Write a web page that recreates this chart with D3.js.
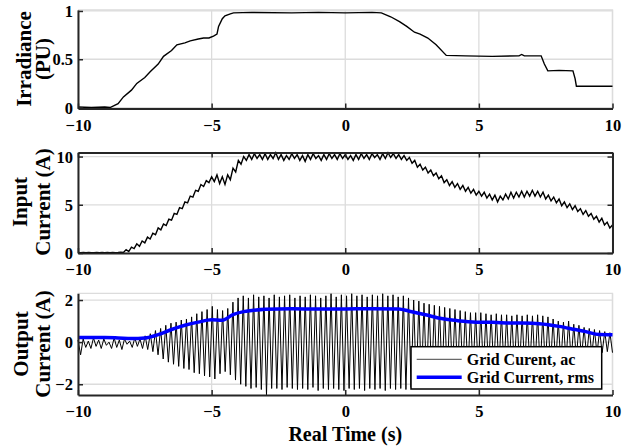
<!DOCTYPE html>
<html>
<head>
<meta charset="utf-8">
<script src="https://cdn.jsdelivr.net/npm/d3@7"></script>
<style>
  body { margin: 0; background: #fff; }
  svg { display: block; }
  text { font-family: 'Liberation Serif', 'Times New Roman', serif; font-weight: bold; fill: #000; }
</style>
</head>
<body>
<div id="chart"></div>
<script>
// time axis shared by all three panels
const timeTicks = [-10, -5, 0, 5, 10];

// irradiance (PU), read at breakpoints
const irrTime = [-10, -9.5, -9, -8.8, -8.5, -8.3, -8, -7.8, -7.5, -7.3,
  -7, -6.8, -6.5, -6.3, -6, -5.8, -5.5, -5.3, -5.1, -4.93,
  -4.8, -4.74, -4.6, -4.5, -4.3, -4.18, -3.5, -2, -1, 0,
  1, 1.35, 1.7, 2.03, 2.3, 2.59, 2.8, 3.09, 3.4, 3.78,
  4.5, 5.5, 6.5, 6.6, 6.7, 7.33, 7.45, 7.58, 8, 8.52,
  8.6, 8.65, 9, 10];
const irrValue = [0.005, 0.0, 0.005, 0.0, 0.04, 0.11, 0.18, 0.25, 0.31, 0.37,
  0.45, 0.53, 0.59, 0.65, 0.67, 0.69, 0.71, 0.72, 0.72, 0.74,
  0.76, 0.84, 0.92, 0.95, 0.97, 0.98, 0.985, 0.98, 0.985, 0.98,
  0.985, 0.98, 0.94, 0.89, 0.84, 0.78, 0.76, 0.72, 0.65, 0.54,
  0.535, 0.53, 0.535, 0.55, 0.535, 0.535, 0.45, 0.38, 0.385, 0.38,
  0.3, 0.22, 0.22, 0.22];
const irrTicks = [0, 0.5, 1];

// input current (A), one sample every 0.1 s from -10 s
const inputStep = 0.1;
const inputCurrent = [
  0.05, 0.02, 0.06, 0.03, 0.05, 0.02, 0.04, 0.06, 0.03, 0.05,
  0.02, 0.05, 0.03, 0.06, 0.04, 0.05, 0.08, 0.05, 0.35, 0.15,
  0.6, 0.45, 0.95, 0.7, 1.25, 1.05, 1.65, 1.45, 2.05, 1.9,
  2.6, 2.4, 3.0, 2.85, 3.5, 3.4, 4.1, 4.0, 4.7, 4.6,
  5.3, 5.2, 5.9, 5.8, 6.5, 6.4, 7.1, 6.9, 7.5, 7.3,
  7.9, 7.4, 8.1, 7.2, 7.9, 7.1, 8.1, 7.6, 8.8, 8.4,
  9.6, 9.2, 10.0, 9.6, 10.2, 9.7, 10.3, 9.8, 10.2, 9.7,
  10.3, 9.7, 10.2, 9.8, 10.4, 9.7, 10.2, 9.6, 10.1, 9.7,
  10.3, 9.8, 10.2, 9.6, 10.1, 9.5, 10.2, 9.7, 10.3, 9.8,
  10.1, 9.6, 10.2, 9.7, 10.3, 9.8, 10.2, 9.7, 10.3, 9.8,
  10.2, 9.7, 10.1, 9.6, 10.2, 9.7, 10.3, 9.8, 10.2, 9.7,
  10.3, 9.9, 10.2, 9.7, 10.3, 9.8, 10.4, 9.9, 10.3, 9.8,
  10.2, 9.7, 10.1, 9.6, 9.9, 9.3, 9.6, 8.9, 9.2, 8.6,
  8.9, 8.3, 8.6, 8.0, 8.3, 7.7, 8.0, 7.3, 7.6, 7.0,
  7.4, 6.8, 7.2, 6.6, 7.0, 6.4, 6.8, 6.2, 6.6, 6.0,
  6.4, 5.9, 6.3, 5.7, 6.1, 5.5, 6.0, 5.3, 5.9, 5.5,
  6.1, 5.6, 6.3, 5.7, 6.3, 5.8, 6.4, 5.8, 6.4, 5.9,
  6.5, 5.9, 6.4, 5.8, 6.3, 5.6, 6.0, 5.4, 5.8, 5.2,
  5.6, 4.9, 5.3, 4.7, 5.1, 4.5, 4.9, 4.3, 4.6, 4.0,
  4.4, 3.8, 4.1, 3.5, 3.8, 3.2, 3.6, 2.9, 3.2, 2.6,
  2.9];
const inputTicks = [0, 5, 10];

// grid current ac (A): peak / trough per cycle, evenly spaced over -10..10 s
const gridAc = [
  0.1, -0.6, 0.15, -0.25, 0.05, -0.3, 0.2, -0.2, 0.1, -0.3, 0.15, -0.15, 0.0, -0.3, 0.2, -0.25, 0.1, -0.35, 0.15, -0.1,
  0.05, -0.25, 0.2, -0.2, 0.15, -0.3, 0.3, -0.35, 0.4, -0.45, 0.55, -0.6, 0.65, -0.8, 0.8, -0.95, 0.9, -1.05, 0.95, -1.15,
  1.05, -1.25, 1.1, -1.3, 1.2, -1.45, 1.35, -1.5, 1.45, -1.6, 1.55, -1.65, 1.7, -1.75, 1.55, -1.5, 1.5, -1.4, 1.6, -1.55,
  1.9, -1.8, 2.1, -2.0, 2.2, -2.1, 2.1, -2.2, 2.25, -2.15, 2.15, -2.25, 2.2, -2.5, 2.1, -2.2, 2.25, -2.2, 2.15, -2.25,
  2.2, -2.15, 2.25, -2.2, 2.1, -2.25, 2.2, -2.2, 2.15, -2.25, 2.25, -2.15, 2.2, -2.3, 2.1, -2.2, 2.2, -2.25, 2.3, -2.2,
  2.15, -2.25, 2.25, -2.3, 2.2, -2.2, 2.3, -2.25, 2.2, -2.2, 2.25, -2.3, 2.15, -2.2, 2.25, -2.25, 2.2, -2.2, 2.3, -2.3,
  2.2, -2.2, 2.25, -2.25, 2.15, -2.2, 2.2, -2.25, 2.1, -2.15, 2.0, -2.1, 1.95, -2.0, 1.85, -1.95, 1.8, -1.85, 1.75, -1.8,
  1.7, -1.75, 1.65, -1.7, 1.6, -1.6, 1.55, -1.55, 1.5, -1.5, 1.45, -1.45, 1.4, -1.4, 1.4, -1.4, 1.4, -1.35, 1.35, -1.3,
  1.3, -1.3, 1.35, -1.25, 1.3, -1.3, 1.3, -1.25, 1.25, -1.25, 1.3, -1.2, 1.25, -1.25, 1.3, -1.2, 1.25, -1.2, 1.3, -1.25,
  1.25, -1.2, 1.2, -1.15, 1.1, -1.05, 1.0, -1.0, 0.95, -0.9, 1.0, -0.9, 0.85, -0.8, 0.8, -0.75, 0.7, -0.7, 0.65, -0.6,
  0.6, -0.55, 0.55, -0.5, 0.5, -0.45, 0.45, -0.5];

// grid current rms (A)
const rmsTime = [-10, -9, -8.5, -8, -7.5, -7, -6.5, -6, -5.5, -5,
  -4.6, -4.2, -3.8, -3.5, -3, -2, -1, 0, 1, 2,
  2.4, 3, 3.6, 4.2, 4.9, 5.5, 6.2, 7, 7.6, 8,
  8.6, 9, 9.5, 10];
const rmsValue = [0.22, 0.22, 0.2, 0.17, 0.2, 0.36, 0.6, 0.8, 0.95, 1.06,
  1.04, 1.31, 1.45, 1.5, 1.56, 1.59, 1.57, 1.58, 1.59, 1.58,
  1.47, 1.3, 1.12, 1.02, 0.95, 0.94, 0.91, 0.9, 0.83, 0.75,
  0.6, 0.5, 0.36, 0.35];
const outputTicks = [-2, 0, 2];

const legendLabels = ['Grid Curent, ac', 'Grid Current, rms'];

const width = 623;
const height = 447;
const gridColor = '#dcdcdc';
const axisColor = '#262626';

const svg = d3.select('#chart')
  .append('svg')
  .attr('width', width)
  .attr('height', height);

const x = d3.scaleLinear()
  .domain([-10, 10])
  .range([78, 612.5]);

function drawPanel({ top, bottom, domain, ticks, format, box, labels, labelX, labelY }) {
  const y = d3.scaleLinear()
    .domain(domain)
    .range([bottom, top]);

  const g = svg.append('g');

  // grid
  g.append('g')
    .selectAll('line')
    .data(timeTicks)
    .join('line')
    .attr('x1', d => x(d))
    .attr('x2', d => x(d))
    .attr('y1', top)
    .attr('y2', bottom)
    .attr('stroke', gridColor)
    .attr('stroke-width', 1.3);

  g.append('g')
    .selectAll('line')
    .data(ticks)
    .join('line')
    .attr('x1', x.range()[0])
    .attr('x2', x.range()[1])
    .attr('y1', d => y(d))
    .attr('y2', d => y(d))
    .attr('stroke', gridColor)
    .attr('stroke-width', 1.3);

  // light box edges for panels drawn with box off
  if (!box) {
    g.append('path')
      .attr('d', `M${x.range()[0]},${top}H${x.range()[1]}V${bottom}`)
      .attr('fill', 'none')
      .attr('stroke', gridColor)
      .attr('stroke-width', 1.3);
  }

  const finish = () => {
    const axisG = svg.append('g');

    const bottomAxis = axisG.append('g')
      .attr('transform', `translate(0, ${bottom})`)
      .call(d3.axisBottom(x).tickValues(timeTicks).tickSizeInner(-5).tickSizeOuter(0));
    bottomAxis.selectAll('text')
      .attr('y', 22)
      .attr('dy', 0)
      .style('font-size', '16.5px');

    const leftAxis = axisG.append('g')
      .attr('transform', `translate(${x.range()[0]}, 0)`)
      .call(d3.axisLeft(y).tickValues(ticks).tickFormat(format).tickSizeInner(-5).tickSizeOuter(0).tickPadding(5));
    leftAxis.selectAll('text')
      .attr('dy', '0.34em')
      .style('font-size', '16.5px');

    if (box) {
      axisG.append('g')
        .attr('transform', `translate(0, ${top})`)
        .call(d3.axisTop(x).tickValues(timeTicks).tickSizeInner(-5).tickSizeOuter(0).tickFormat(''));
      axisG.append('g')
        .attr('transform', `translate(${x.range()[1]}, 0)`)
        .call(d3.axisRight(y).tickValues(ticks).tickSizeInner(-5).tickSizeOuter(0).tickFormat(''));
    }

    axisG.selectAll('.domain')
      .attr('stroke', axisColor)
      .attr('stroke-width', 2);
    axisG.selectAll('.tick line')
      .attr('stroke', axisColor)
      .attr('stroke-width', 1.5);

    labels.forEach((t, i) => {
      svg.append('text')
        .attr('transform', `translate(${labelX[i]}, ${labelY}) rotate(-90)`)
        .attr('text-anchor', 'middle')
        .style('font-size', '21px')
        .text(t);
    });
  };

  return { y, g, finish };
}

// panel 1: irradiance
const p1 = drawPanel({
  top: 10, bottom: 108.5, domain: [-0.01, 1.01], ticks: irrTicks,
  format: d3.format('~g'), box: false,
  labels: ['Irradiance', '(PU)'], labelX: [31, 50], labelY: 59,
});
p1.g.append('path')
  .datum(d3.zip(irrTime, irrValue))
  .attr('fill', 'none')
  .attr('stroke', '#000')
  .attr('stroke-width', 1.4)
  .attr('d', d3.line().x(d => x(d[0])).y(d => p1.y(d[1])));
p1.finish();

// panel 2: input current
const p2 = drawPanel({
  top: 152.5, bottom: 253, domain: [0, 10.42], ticks: inputTicks,
  format: d3.format('d'), box: true,
  labels: ['Input', 'Current (A)'], labelX: [27, 50], labelY: 202,
});
p2.g.append('path')
  .datum(inputCurrent)
  .attr('fill', 'none')
  .attr('stroke', '#000')
  .attr('stroke-width', 1.4)
  .attr('d', d3.line().x((d, i) => x(-10 + i * inputStep)).y(d => p2.y(d)));
p2.finish();

// panel 3: output (grid) current
const p3 = drawPanel({
  top: 293.3, bottom: 395, domain: [-2.51, 2.32], ticks: outputTicks,
  format: d3.format('d'), box: false,
  labels: ['Output', 'Current (A)'], labelX: [28, 50], labelY: 344,
});
const acStep = 20 / (gridAc.length - 1);
p3.g.append('path')
  .datum(gridAc)
  .attr('fill', 'none')
  .attr('stroke', '#000')
  .attr('stroke-width', 1)
  .attr('d', d3.line().x((d, i) => x(-10 + i * acStep)).y(d => p3.y(d)));
p3.g.append('path')
  .datum(d3.zip(rmsTime, rmsValue))
  .attr('fill', 'none')
  .attr('stroke', '#0000ff')
  .attr('stroke-width', 3.5)
  .attr('stroke-linejoin', 'round')
  .attr('d', d3.line().curve(d3.curveMonotoneX).x(d => x(d[0])).y(d => p3.y(d[1])));
p3.finish();

// legend
const legend = svg.append('g')
  .attr('transform', 'translate(411, 346.7)');
legend.append('rect')
  .attr('width', 190.7)
  .attr('height', 42.3)
  .attr('fill', '#fff')
  .attr('stroke', '#000')
  .attr('stroke-width', 1.5);
const legendStyles = [{ stroke: '#444', w: 1 }, { stroke: '#0000ff', w: 3.5 }];
legendLabels.forEach((label, i) => {
  const ly = 12.6 + i * 18;
  legend.append('line')
    .attr('x1', 5.7)
    .attr('x2', 50.7)
    .attr('y1', ly)
    .attr('y2', ly)
    .attr('stroke', legendStyles[i].stroke)
    .attr('stroke-width', legendStyles[i].w);
  legend.append('text')
    .attr('x', 55.7)
    .attr('y', ly)
    .attr('dy', '0.33em')
    .style('font-size', '16px')
    .text(label);
});

svg.append('text')
  .attr('x', x(0))
  .attr('y', 441)
  .attr('text-anchor', 'middle')
  .style('font-size', '20px')
  .text('Real Time (s)');
</script>
</body>
</html>
